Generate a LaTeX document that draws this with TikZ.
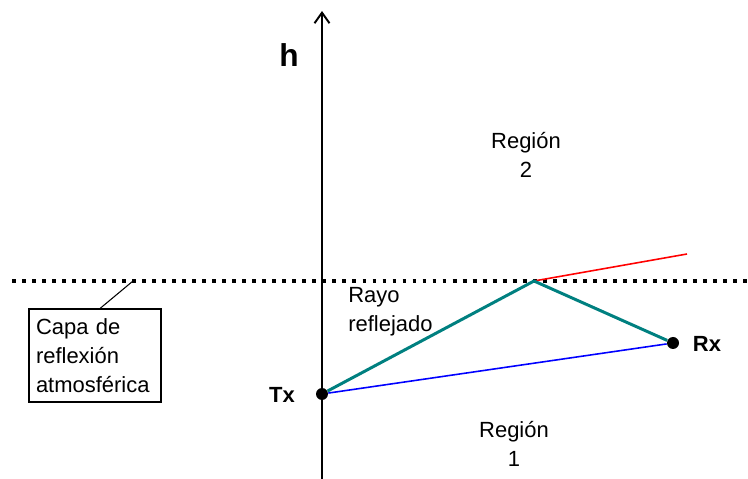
\documentclass[tikz,border=0pt]{standalone}
\usepackage{fontspec}
\setmainfont{Liberation Sans}
\usetikzlibrary{arrows.meta}
\definecolor{rayteal}{RGB}{0,128,128}
\tikzset{
  lbl/.style={font=\fontsize{12.5}{16.5}\selectfont, inner sep=0pt},
  blbl/.style={font=\fontsize{12.5}{16.5}\selectfont\bfseries, inner sep=0pt},
  antenna/.style={circle, fill=black, inner sep=0pt, minimum size=0.24cm},
  capaline/.style={line width=2.2pt, dash pattern=on 2.2pt off 3.5pt}
}
\begin{document}
\begin{tikzpicture}[x=0.02cm, y=-0.02cm]
  \useasboundingbox (0,0) rectangle (748,479);
  % axis
  \coordinate (axbot) at (322,479);
  \coordinate (axtop) at (322,11);
  \draw[line width=1.1pt, -{Straight Barb[length=6pt, width=8.5pt]}] (axbot) -- (axtop);
  \node[blbl, font=\fontsize{18}{20}\selectfont\bfseries] (hlbl) at (289,55) {h};
  % reflecting layer
  \coordinate (capal) at (12,281);
  \coordinate (capar) at (748,281);
  \draw[capaline] (capal) -- (capar);
  % antennas and rays
  \node[antenna] (tx) at (322,394) {};
  \node[antenna] (rx) at (673,343) {};
  \coordinate (refl) at (534,281);
  \coordinate (redend) at (687,254);
  \draw[blue, line width=0.9pt] (tx) -- (rx);
  \draw[red, line width=0.9pt] (refl) -- (redend);
  \draw[rayteal, line width=1.7pt, line join=round] (tx) -- (refl) -- (rx);
  \node[blbl] (txlbl) at (282,395) {Tx};
  \node[blbl] (rxlbl) at (707,344) {Rx};
  % texts
  \node[lbl, align=center] (reg2) at (526,155) {Región\\2};
  \node[lbl, align=center] (reg1) at (514,444) {Región\\1};
  \node[lbl, align=left, anchor=west] (rayo) at (348,312) {Rayo\\reflejado};
  \node[lbl, draw, line width=0.6pt, align=left, minimum width=2.64cm, minimum height=1.86cm,
        text width=2.36cm, inner xsep=0.14cm] (capa) at (95,355.5) {Capa de\\reflexión\\atmosférica};
  \coordinate (capapt) at (133,281);
  \draw[line width=0.6pt] ([xshift=0.1cm]capa.north) -- (capapt);
\end{tikzpicture}
\end{document}
